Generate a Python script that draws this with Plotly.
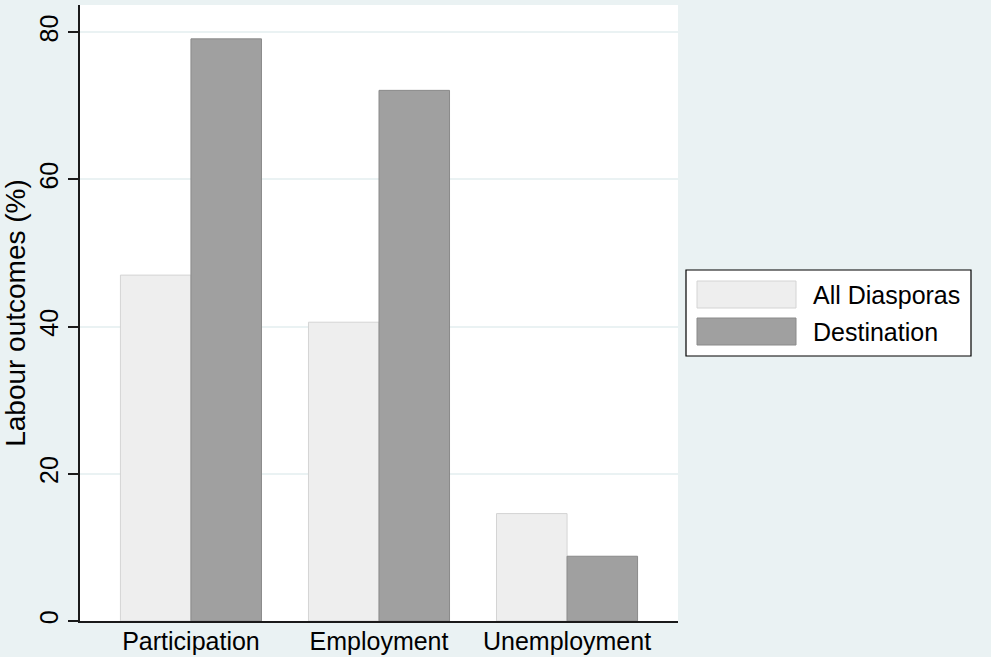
import plotly.graph_objects as go

categories = ["Participation", "Employment", "Unemployment"]
series_names = ["All Diasporas", "Destination"]
all_diasporas = [47.0, 40.6, 14.6]
destination = [79.1, 72.1, 8.8]
y_ticks = [0, 20, 40, 60, 80]

BG = "#eaf2f3"
FILLS = ["#eeeeee", "#a0a0a0"]
EDGES = ["#d4d4d4", "#8a8a8a"]
FONT = dict(family="Liberation Sans, Arial, sans-serif", color="#000000", size=25)

W, H = 991, 657
M = dict(l=80, r=313, t=5, b=36)


def px_to_paper(x, y):
    # convert window pixels to paper coordinates of the plot area
    pw = W - M["l"] - M["r"]
    ph = H - M["t"] - M["b"]
    return (x - M["l"]) / pw, (H - M["b"] - y) / ph


fig = go.Figure()
for name, vals, fill, edge in zip(series_names, [all_diasporas, destination], FILLS, EDGES):
    fig.add_trace(
        go.Bar(
            x=categories,
            y=vals,
            name=name,
            marker=dict(color=fill, line=dict(color=edge, width=1)),
            showlegend=False,
        )
    )

fig.update_layout(
    width=W,
    height=H,
    barmode="group",
    bargap=0.25,
    bargroupgap=0,
    paper_bgcolor=BG,
    plot_bgcolor="#ffffff",
    font=FONT,
    margin=M,
    showlegend=False,
)
fig.update_xaxes(
    range=[-0.59, 2.59],
    automargin=False,
    showgrid=False,
    showline=True,
    linecolor="#1a1a1a",
    linewidth=1.5,
    ticks="",
    ticklabelstandoff=-3,
)
fig.update_yaxes(
    range=[0, 83.7],
    automargin=False,
    tickvals=y_ticks,
    tickangle=-90,
    ticks="outside",
    ticklen=10,
    tickwidth=1.5,
    tickcolor="#1a1a1a",
    showline=True,
    linecolor="#1a1a1a",
    linewidth=1.5,
    showgrid=True,
    gridcolor=BG,
    gridwidth=1.5,
    zeroline=False,
    title=dict(text="Labour outcomes (%)", font=dict(size=28), standoff=2),
)

# legend drawn as a boxed key to the right of the plot area
x0, y1 = px_to_paper(686, 270)
x1, y0 = px_to_paper(971, 356)
fig.add_shape(type="rect", xref="paper", yref="paper", x0=x0, x1=x1, y0=y0, y1=y1,
              line=dict(color="#000000", width=1.2), fillcolor="#ffffff", layer="above")
for i, (name, fill, edge) in enumerate(zip(series_names, FILLS, EDGES)):
    top = 281 + i * 37
    sx0, sy1 = px_to_paper(697, top)
    sx1, sy0 = px_to_paper(796, top + 27)
    fig.add_shape(type="rect", xref="paper", yref="paper", x0=sx0, x1=sx1, y0=sy0, y1=sy1,
                  line=dict(color=edge, width=1), fillcolor=fill, layer="above")
    tx, ty = px_to_paper(811, top + 14)
    fig.add_annotation(xref="paper", yref="paper", x=tx, y=ty, text=name,
                       showarrow=False, xanchor="left", yanchor="middle")

fig.write_html(
    "out.html",
    config={"displayModeBar": False},
    post_script="document.body.style.margin='0px';",
)
